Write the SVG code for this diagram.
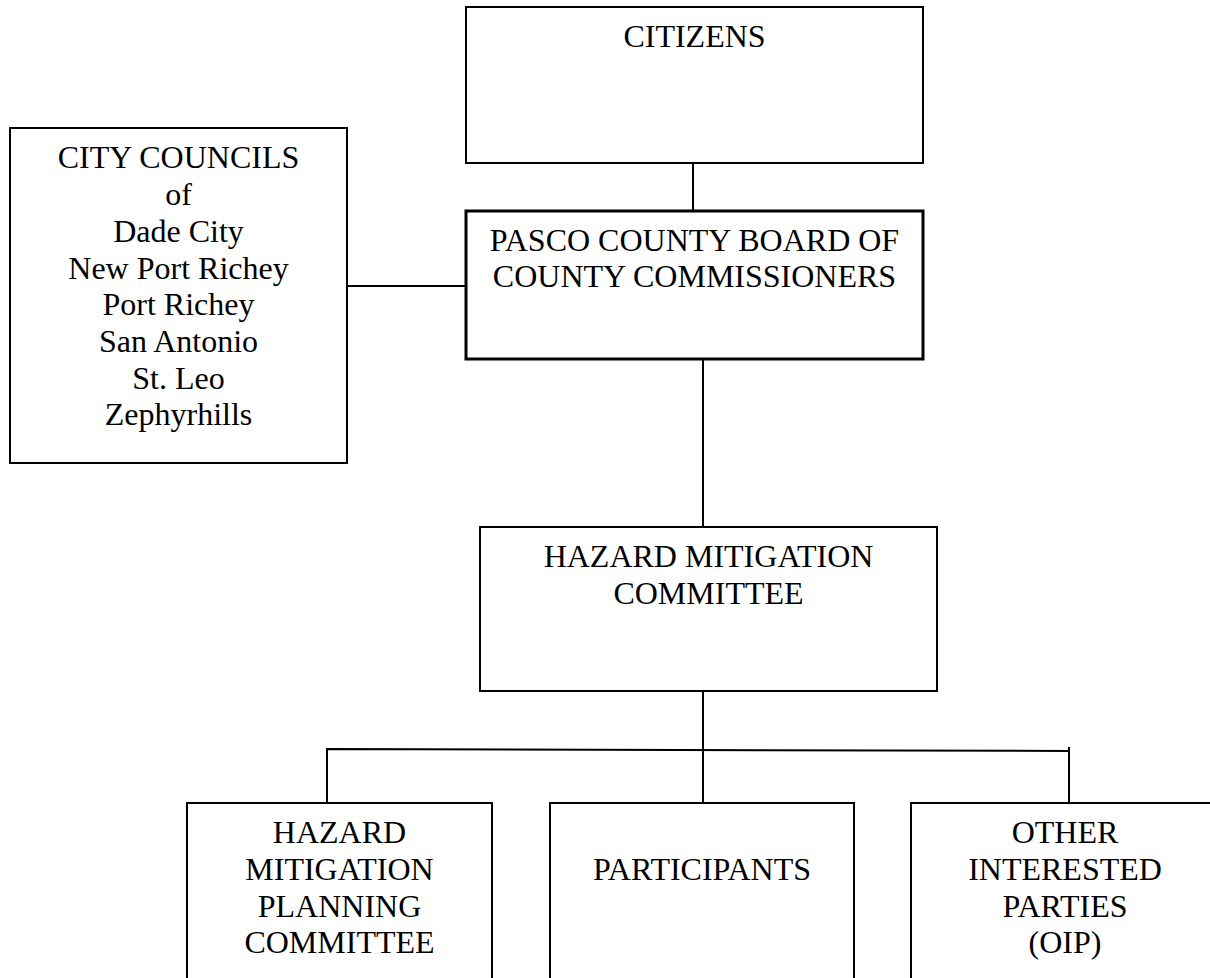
<svg xmlns="http://www.w3.org/2000/svg" width="1210" height="978" viewBox="0 0 1210 978">
<style>
.box{fill:#fff;stroke:#000;stroke-width:2}
.thick{stroke-width:3}
.t{font-family:'Liberation Serif','Times New Roman',serif;font-size:32px;fill:#000;text-anchor:middle}
.c{stroke:#000;stroke-width:2;fill:none}
</style>
<rect width="1210" height="978" fill="#fff"/>
<g id="connectors">
<line class="c" x1="693" y1="163" x2="693" y2="211"/>
<line class="c" x1="347" y1="286" x2="466" y2="286"/>
<line class="c" x1="703" y1="359" x2="703" y2="527"/>
<line class="c" x1="703" y1="691" x2="703" y2="803"/>
<polyline class="c" points="327,803 327,749 1069,751"/>
<line class="c" x1="1069" y1="747" x2="1069" y2="803"/>
</g>
<g id="citizens">
<rect class="box" x="466" y="7" width="457" height="156"/>
<text class="t" x="694.5" y="47">CITIZENS</text>
</g>
<g id="city-councils">
<rect class="box" x="10" y="128" width="337" height="335"/>
<text class="t" x="178.5" y="168">CITY COUNCILS</text>
<text class="t" x="178.5" y="204.5">of</text>
<text class="t" x="178.5" y="241.5">Dade City</text>
<text class="t" x="178.5" y="278.5">New Port Richey</text>
<text class="t" x="178.5" y="315">Port Richey</text>
<text class="t" x="178.5" y="351.5">San Antonio</text>
<text class="t" x="178.5" y="388.5">St. Leo</text>
<text class="t" x="178.5" y="425">Zephyrhills</text>
</g>
<g id="pasco">
<rect class="box thick" x="466" y="211" width="457" height="148"/>
<text class="t" x="694.5" y="251">PASCO COUNTY BOARD OF</text>
<text class="t" x="694.5" y="287">COUNTY COMMISSIONERS</text>
</g>
<g id="hmc">
<rect class="box" x="480" y="527" width="457" height="164"/>
<text class="t" x="708.5" y="567">HAZARD MITIGATION</text>
<text class="t" x="708.5" y="604">COMMITTEE</text>
</g>
<g id="hmpc">
<rect class="box" x="187" y="803" width="305" height="220"/>
<text class="t" x="339.5" y="843">HAZARD</text>
<text class="t" x="339.5" y="880">MITIGATION</text>
<text class="t" x="339.5" y="917">PLANNING</text>
<text class="t" x="339.5" y="953">COMMITTEE</text>
</g>
<g id="participants">
<rect class="box" x="550" y="803" width="304" height="220"/>
<text class="t" x="702" y="880">PARTICIPANTS</text>
</g>
<g id="oip">
<rect class="box" x="911" y="803" width="308" height="220"/>
<text class="t" x="1065" y="843">OTHER</text>
<text class="t" x="1065" y="880">INTERESTED</text>
<text class="t" x="1065" y="917">PARTIES</text>
<text class="t" x="1065" y="953">(OIP)</text>
</g>
</svg>
